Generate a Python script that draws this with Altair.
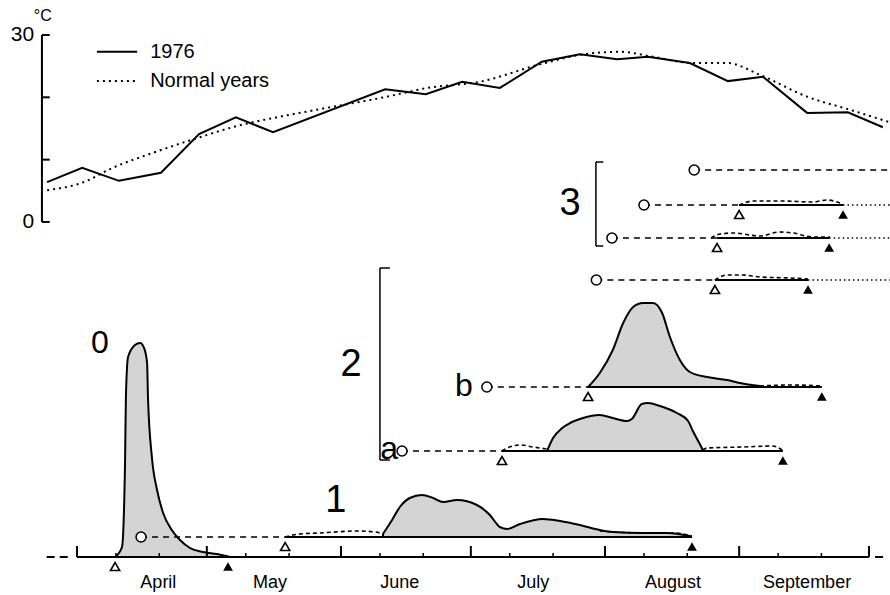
import altair as alt
import pandas as pd

# ------------------------------------------------------------------ data
# day = days after 1 April 1976
t1976_day = [-6.9, 1.2, 9.7, 19.4, 28.2, 36.7, 45.3, 71.2, 80.6, 89.0, 97.7,
             107.4, 116.2, 124.8, 131.9, 141.6, 150.4, 158.5, 168.7, 178.1, 186.2]
t1976_temp = [6.4, 8.7, 6.6, 7.9, 14.1, 16.8, 14.4, 21.3, 20.5, 22.5, 21.5,
              25.7, 26.9, 26.1, 26.5, 25.5, 22.6, 23.3, 17.5, 17.6, 15.2]
tnorm_day = [-6.9, 1.2, 8.3, 17.6, 28.4, 37.0, 46.2, 56.1, 71.6, 80.9, 93.1,
             107.0, 116.2, 125.5, 133.1, 142.3, 150.2, 157.8, 168.7, 178.6, 187.8]
tnorm_temp = [5.1, 6.3, 8.7, 11.1, 13.6, 15.4, 16.8, 18.1, 20.1, 21.5, 22.5,
              25.3, 26.8, 27.3, 26.5, 25.5, 25.5, 23.6, 20.1, 18.0, 16.0]
temp_ticks = [0, 10, 20, 30]
temp_labels = ["0", "30"]
temp_label_values = [0, 30]
legend_labels = ["1976", "Normal years"]

month_names = ["April", "May", "June", "July", "August", "September"]
month_label_day = [18.8, 44.6, 74.6, 105.4, 137.7, 168.7]
month_start_day = [0, 30, 61, 91, 122, 153, 183]
decade_day = [9, 19, 39, 49, 70, 80, 100, 110, 131, 141, 162, 172]

# abundance profiles (relative units) per row
p0_day = [8.8, 10.4, 11.1, 11.3, 11.8, 13.4, 14.6, 15.5, 16.2, 16.4, 17.3, 18.5,
          19.9, 21.9, 23.8, 26.1, 29.1, 32.3, 35.4]
p0_val = [0, 10, 94, 160, 200, 212, 214, 209, 194, 160, 100, 67, 44, 27, 17, 9, 5, 3, 0]

p1_day = [70.7, 72.8, 74.6, 76.9, 79.7, 82.3, 84.6, 87.8, 92.4, 95.4, 97.7, 99.4,
          102.4, 107.7, 111.6, 116.2, 120.8, 123.8, 130.8, 136.3, 141.6]
p1_val = [3, 17, 30, 39, 42, 39, 35, 37, 32, 22, 10, 8, 13, 18, 16, 12, 7, 5, 4, 4, 1]
p1_pre_day = [48.1, 51.5, 56.1, 64.7, 68.9, 70.7]
p1_pre_val = [0, 3, 4, 6, 5, 3]
p1_post_day = [120.8, 130.8, 138.0, 142.1]
p1_post_val = [6, 4, 4, 1]

p2a_day = [108.6, 110.0, 112.1, 113.9, 116.2, 120.8, 123.8, 127.1, 128.2, 130.5,
           131.9, 134.7, 138.6, 141.2, 142.3, 143.9, 144.6]
p2a_val = [0, 13, 23, 28, 32, 36, 33, 30, 32, 47, 48, 45, 38, 30, 20, 7, 1]
p2a_pre_day = [98.2, 99.4, 102.4, 105.4, 108.6]
p2a_pre_val = [0, 3, 6, 4, 2]
p2a_post_day = [144.6, 145.6, 153.9, 160.8, 162.9]
p2a_post_val = [1, 3, 4, 5, 1]

p2b_day = [118.1, 120.8, 123.8, 126.2, 128.5, 130.8, 133.1, 135.2, 137.0, 139.3,
           141.6, 145.6, 150.2, 153.2, 157.8]
p2b_val = [0, 14, 37, 64, 80, 84, 84, 74, 50, 27, 15, 10, 7, 4, 1]
p2b_post_day = [157.8, 165.0, 172.1]
p2b_post_val = [1, 2, 1]

p2c_day = [147.4, 150.2, 153.9, 157.8, 164.7, 168.9]
p2c_val = [0, 5, 5, 3, 2, 1]
p3b_day = [153.0, 156.3, 162.4, 170.1, 173.2, 177.0]
p3b_val = [0, 4, 4, 3, 5, 1]
p3c_day = [146.5, 148.6, 151.6, 157.8, 162.4, 165.4, 170.1, 174.0]
p3c_val = [0, 4, 5, 2, 6, 5, 1, 1]

circle_row = ["1", "2a", "2b", "2c", "3a", "3b", "3c"]
circle_day = [14.8, 75.1, 94.7, 120.0, 142.6, 131.0, 123.6]
first_row = ["0", "1", "2a", "2b", "2c", "3b", "3c"]
first_day = [8.8, 48.1, 98.2, 118.1, 147.4, 153.0, 147.9]
last_day = [34.9, 142.1, 163.1, 172.1, 168.9, 177.0, 173.8]
sampling_end_day = 187.8

row_labels = ["0", "1", "2", "3", "a", "b"]

# ------------------------------------------------------------------ layout
ROW_BASE = {"0": 38, "1": 58, "2a": 144, "2b": 208, "2c": 315,
            "3c": 357, "3b": 390, "3a": 425}
FONT = "Liberation Sans"

XS = alt.Scale(domain=[-17.79, 187.85], nice=False, zero=False)
TS = alt.Scale(domain=[-59.84, 35.61], nice=False, zero=False)
VS = alt.Scale(domain=[0, 595], nice=False, zero=False)


def xq(f):
    return alt.X(f, type="quantitative", scale=XS, axis=None)


def yt(f):
    return alt.Y(f, type="quantitative", scale=TS, axis=None)


def yv(f):
    return alt.Y(f, type="quantitative", scale=VS, axis=None)


layers = []

# ---------------- temperature panel
df76 = pd.DataFrame({"day": t1976_day, "temp": t1976_temp})
dfn = pd.DataFrame({"day": tnorm_day, "temp": tnorm_temp})
layers.append(alt.Chart(dfn).mark_line(color="black", strokeWidth=2, strokeDash=[2, 4],
                                       interpolate="monotone")
              .encode(x=xq("day"), y=yt("temp")))
layers.append(alt.Chart(df76).mark_line(color="black", strokeWidth=2)
              .encode(x=xq("day"), y=yt("temp")))

tax = pd.DataFrame({"day": [-8.1], "lo": [0], "hi": [30]})
layers.append(alt.Chart(tax).mark_rule(color="black", strokeWidth=2)
              .encode(x=xq("day"), y=yt("lo"), y2="hi"))
tt = pd.DataFrame({"t": temp_ticks, "x1": -8.1, "x2": -6.3})
layers.append(alt.Chart(tt).mark_rule(color="black", strokeWidth=2)
              .encode(x=xq("x1"), x2="x2", y=yt("t")))
tl = pd.DataFrame({"t": temp_label_values, "lab": temp_labels, "day": -9.9})
layers.append(alt.Chart(tl).mark_text(align="right", baseline="middle", fontSize=21, font=FONT,
                                      color="black")
              .encode(x=xq("day"), y=yt("t"), text="lab:N"))
unit = pd.DataFrame({"day": [-7.9], "t": [32.3], "lab": ["°C"]})
layers.append(alt.Chart(unit).mark_text(align="center", baseline="alphabetic", fontSize=16,
                                        font=FONT, color="black")
              .encode(x=xq("day"), y=yt("t"), text="lab:N"))

# legend
leg = pd.DataFrame({"x1": [4.6], "x2": [13.9], "t": [27.3]})
layers.append(alt.Chart(leg).mark_rule(color="black", strokeWidth=2)
              .encode(x=xq("x1"), x2="x2", y=yt("t")))
legn = pd.DataFrame({"x1": [4.6], "x2": [13.9], "t": [22.6]})
layers.append(alt.Chart(legn).mark_rule(color="black", strokeWidth=2, strokeDash=[2, 4])
              .encode(x=xq("x1"), x2="x2", y=yt("t")))
legt = pd.DataFrame({"day": [16.9, 16.9], "t": [27.3, 22.6], "lab": legend_labels})
layers.append(alt.Chart(legt).mark_text(align="left", baseline="middle", fontSize=20, font=FONT,
                                        color="black")
              .encode(x=xq("day"), y=yt("t"), text="lab:N"))

# ---------------- lower panel
def prof(row, seg, days, vals):
    d = pd.DataFrame({"row": row, "seg": seg, "day": days, "h": vals})
    d["base"] = ROW_BASE[row]
    d["top"] = d["base"] + d["h"]
    return d


fills = pd.concat([prof("0", "f0", p0_day, p0_val), prof("1", "f1", p1_day, p1_val),
                   prof("2a", "f2a", p2a_day, p2a_val), prof("2b", "f2b", p2b_day, p2b_val)])
dashes = pd.concat([prof("1", "d1a", p1_pre_day, p1_pre_val),
                    prof("1", "d1b", p1_post_day, p1_post_val),
                    prof("2a", "d2a1", p2a_pre_day, p2a_pre_val),
                    prof("2a", "d2a2", p2a_post_day, p2a_post_val),
                    prof("2b", "d2b", p2b_post_day, p2b_post_val),
                    prof("2c", "d2c", p2c_day, p2c_val),
                    prof("3b", "d3b", p3b_day, p3b_val),
                    prof("3c", "d3c", p3c_day, p3c_val)])

layers.append(alt.Chart(fills).mark_area(fill="#d4d4d4", stroke="black", strokeWidth=2,
                                         interpolate="monotone", strokeJoin="round")
              .encode(x=xq("day"), y=yv("top"), y2="base", detail="seg:N"))

# ground axis
g = pd.DataFrame({"x1": [0], "x2": [183], "v": [ROW_BASE["0"]]})
layers.append(alt.Chart(g).mark_rule(color="black", strokeWidth=2)
              .encode(x=xq("x1"), x2="x2", y=yv("v")))
gd = pd.DataFrame({"x1": [-7.0, 184.4], "x2": [-1.2, 186.7], "v": [ROW_BASE["0"]] * 2})
layers.append(alt.Chart(gd).mark_rule(color="black", strokeWidth=2, strokeDash=[8, 5])
              .encode(x=xq("x1"), x2="x2", y=yv("v")))
mt = pd.DataFrame({"day": month_start_day, "v": ROW_BASE["0"]})
mt["v2"] = mt["v"] + 11
layers.append(alt.Chart(mt).mark_rule(color="black", strokeWidth=2)
              .encode(x=xq("day"), y=yv("v"), y2="v2"))
dt = pd.DataFrame({"day": decade_day, "v": ROW_BASE["0"]})
dt["v2"] = dt["v"] + 4
layers.append(alt.Chart(dt).mark_rule(color="black", strokeWidth=1.5)
              .encode(x=xq("day"), y=yv("v"), y2="v2"))
ml = pd.DataFrame({"day": month_label_day, "lab": month_names, "v": 7})
layers.append(alt.Chart(ml).mark_text(align="center", baseline="alphabetic", fontSize=18,
                                      font=FONT, color="black")
              .encode(x=xq("day"), y=yv("v"), text="lab:N"))

# solid baselines between first and last occurrence
sb = pd.DataFrame({"row": first_row, "x1": first_day, "x2": last_day})
sb["v"] = sb["row"].map(ROW_BASE)
layers.append(alt.Chart(sb).mark_rule(color="black", strokeWidth=2)
              .encode(x=xq("x1"), x2="x2", y=yv("v")))

# dashed leaders from circle to first occurrence
fmap = dict(zip(first_row, first_day))
ld = pd.DataFrame({"row": circle_row, "x1": circle_day})
ld["x2"] = [fmap.get(r, sampling_end_day) for r in circle_row]
ld["v"] = ld["row"].map(ROW_BASE)
layers.append(alt.Chart(ld).mark_rule(color="black", strokeWidth=1.5, strokeDash=[6, 5])
              .encode(x=xq("x1"), x2="x2", y=yv("v")))

# dotted tails after last occurrence
lmap = dict(zip(first_row, last_day))
tail_rows = ["2c", "3b", "3c"]
tl2 = pd.DataFrame({"row": tail_rows, "x1": [lmap[r] for r in tail_rows],
                    "x2": sampling_end_day})
tl2["v"] = tl2["row"].map(ROW_BASE)
layers.append(alt.Chart(tl2).mark_rule(color="black", strokeWidth=1.5, strokeDash=[1.5, 3])
              .encode(x=xq("x1"), x2="x2", y=yv("v")))

# dashed abundance curves
layers.append(alt.Chart(dashes).mark_line(color="black", strokeWidth=1.6, strokeDash=[4, 3],
                                          interpolate="monotone")
              .encode(x=xq("day"), y=yv("top"), detail="seg:N"))

# circles
cc = pd.DataFrame({"row": circle_row, "day": circle_day})
cc["v"] = cc["row"].map(ROW_BASE)
layers.append(alt.Chart(cc).mark_point(shape="circle", filled=True, fill="white",
                                       stroke="black", strokeWidth=1.5, size=100, opacity=1)
              .encode(x=xq("day"), y=yv("v")))

# triangles
ot = pd.DataFrame({"row": first_row, "day": first_day})
ot["v"] = ot["row"].map(ROW_BASE)
layers.append(alt.Chart(ot).mark_point(shape="triangle-up", filled=True, fill="white",
                                       stroke="black", strokeWidth=1.6, size=85, opacity=1,
                                       yOffset=9.5)
              .encode(x=xq("day"), y=yv("v")))
ft = pd.DataFrame({"row": first_row, "day": last_day})
ft["v"] = ft["row"].map(ROW_BASE)
layers.append(alt.Chart(ft).mark_point(shape="triangle-up", filled=True, color="black",
                                       size=95, opacity=1, yOffset=9.5)
              .encode(x=xq("day"), y=yv("v")))

# brackets
br = pd.DataFrame({"day": [119.9, 70.0], "lo": [349, 135], "hi": [433, 327]})
layers.append(alt.Chart(br).mark_rule(color="black", strokeWidth=1.5)
              .encode(x=xq("day"), y=yv("lo"), y2="hi"))
bs = pd.DataFrame({"x1": [119.9, 119.9, 70.0, 70.0], "x2": [121.6, 121.6, 72.3, 72.3],
                   "v": [349, 433, 135, 327]})
layers.append(alt.Chart(bs).mark_rule(color="black", strokeWidth=1.5)
              .encode(x=xq("x1"), x2="x2", y=yv("v")))

# row labels
rl = pd.DataFrame({"lab": row_labels,
                   "day": [5.3, 59.8, 63.3, 113.9, 72.1, 89.4],
                   "v": [242, 83, 219, 380, 136, 199],
                   "fs": [32, 38, 38, 38, 32, 32]})
layers.append(alt.Chart(rl).mark_text(align="center", baseline="alphabetic", font=FONT,
                                      color="black")
              .encode(x=xq("day"), y=yv("v"), text="lab:N",
                      size=alt.Size("fs:Q", scale=None, legend=None)))

chart = (alt.layer(*layers)
         .resolve_scale(y="independent")
         .properties(width=890, height=595, padding=0,
                     autosize=alt.AutoSizeParams(type="none"),
                     background="white")
         .configure_view(stroke=None))

chart.save("out.html", embed_options={"renderer": "svg", "actions": False})
